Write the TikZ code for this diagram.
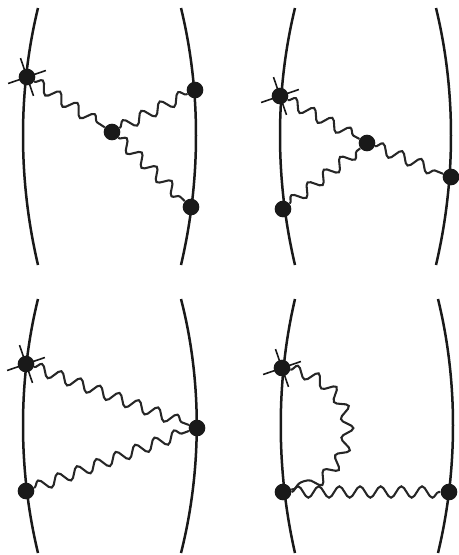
\documentclass[tikz,border=0pt]{standalone}
\usepackage{tikz}
\usetikzlibrary{decorations.pathmorphing,shapes.misc}

\begin{document}
\begin{tikzpicture}[x=.3mm,y=-.3mm]
   \tikzstyle{leg}=[line width=.75mm,black!90]
   \tikzstyle{vert}=[circle,fill=black!90,inner sep=0pt,minimum size=5mm]
   \tikzstyle{xvert}=[cross out,draw=black!90,line width=.48mm,inner sep=0pt,minimum size=8mm,rotate=-26]
   \tikzstyle{phot}=[line width=.62mm,black!85,decorate,decoration={snake,segment length=6.2mm,amplitude=1.7mm}]

   \useasboundingbox (0,0) rectangle (459,555) ;

   % top left
   \draw [leg] (38,8) .. controls (18,90) and (18,180) .. (38,265) ;
   \draw [leg] (181,8) .. controls (201,90) and (201,180) .. (181,265) ;
   \node (x1) [xvert] at (27,77) {} ;
   \node (a1) [vert] at (27,77) {} ;
   \node (b1) [vert] at (112,132) {} ;
   \node (c1) [vert] at (195,90) {} ;
   \node (d1) [vert] at (191,207) {} ;
   \draw [phot] (a1) -- (b1) ;
   \draw [phot] (b1) -- (c1) ;
   \draw [phot] (b1) -- (d1) ;

   % top right
   \draw [leg] (295,8) .. controls (275,90) and (275,180) .. (295,265) ;
   \draw [leg] (436,8) .. controls (456,90) and (456,180) .. (436,265) ;
   \node (x2) [xvert] at (280,96) {} ;
   \node (a2) [vert] at (280,96) {} ;
   \node (b2) [vert] at (367,143) {} ;
   \node (c2) [vert] at (451,177) {} ;
   \node (d2) [vert] at (283,209) {} ;
   \draw [phot] (a2) -- (b2) ;
   \draw [phot] (b2) -- (c2) ;
   \draw [phot] (d2) -- (b2) ;

   % bottom left
   \draw [leg] (38,299) .. controls (18,380) and (18,470) .. (38,553) ;
   \draw [leg] (181,299) .. controls (202,380) and (202,470) .. (181,553) ;
   \node (x3) [xvert] at (26,364) {} ;
   \node (a3) [vert] at (26,364) {} ;
   \node (c3) [vert] at (197,428) {} ;
   \node (d3) [vert] at (26,491) {} ;
   \draw [phot] (a3) -- (c3) ;
   \draw [phot] (d3) -- (c3) ;

   % bottom right
   \draw [leg] (295,299) .. controls (276,380) and (276,470) .. (295,553) ;
   \draw [leg] (438,299) .. controls (458,380) and (458,470) .. (438,553) ;
   \node (x4) [xvert] at (282,368) {} ;
   \node (a4) [vert] at (282,368) {} ;
   \node (d4) [vert] at (283,492) {} ;
   \node (c4) [vert] at (449,492) {} ;
   \draw [phot] (a4) .. controls (360,385) and (360,470) .. (d4) ;
   \draw [phot] (d4) -- (c4) ;
\end{tikzpicture}
\end{document}
